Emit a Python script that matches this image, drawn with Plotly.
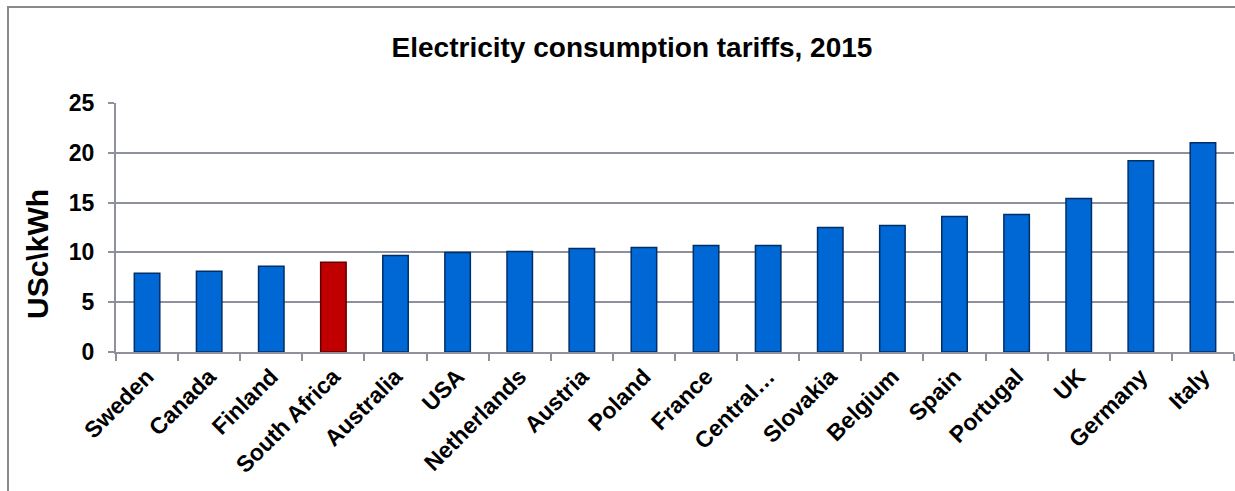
import plotly.graph_objects as go

countries = ["Sweden", "Canada", "Finland", "South Africa", "Australia", "USA",
             "Netherlands", "Austria", "Poland", "France", "Central…", "Slovakia",
             "Belgium", "Spain", "Portugal", "UK", "Germany", "Italy"]
tariffs = [7.9, 8.1, 8.6, 9.0, 9.7, 10.0, 10.1, 10.4, 10.5, 10.7, 10.7, 12.5,
           12.7, 13.6, 13.8, 15.4, 19.2, 21.0]
highlight = "South Africa"
y_ticks = [0, 5, 10, 15, 20, 25]

FONT = "Arial, Liberation Sans, sans-serif"
GRID = "#8E909C"

fill = ["#C00000" if c == highlight else "#0068D4" for c in countries]
edge = ["#600000" if c == highlight else "#002E66" for c in countries]

fig = go.Figure()
fig.add_trace(go.Bar(
    x=countries, y=tariffs, width=0.41,
    marker=dict(color=fill, line=dict(color=edge, width=1.5)),
    hoverinfo="x+y",
))

W, H = 1235, 491
L, R, T, B = 116, 1, 103, 139
pw = W - L - R
ph = H - T - B

def px_x(p):
    return (p - L) / pw

def px_y(p):
    return (H - B - p) / ph

fig.update_layout(
    width=W, height=H,
    margin=dict(l=L, r=R, t=T, b=B, pad=0),
    paper_bgcolor="white", plot_bgcolor="white",
    showlegend=False,
    font=dict(family=FONT, size=22, color="black"),
    title=dict(text="<b>Electricity consumption tariffs, 2015</b>",
               font=dict(family=FONT, size=28, color="black"),
               x=px_x(632), xref="paper", xanchor="center",
               y=1 - 47 / H, yref="container", yanchor="middle"),
    xaxis=dict(
        type="category",
        showgrid=False,
        showline=True, linecolor=GRID, linewidth=2,
        ticks="outside", tickson="boundaries", ticklen=7, tickwidth=2, tickcolor=GRID,
        tickangle=-45,
        tickfont=dict(family=FONT, size=23, color="black", weight="bold"),
    ),
    yaxis=dict(
        range=[0, 25],
        tickvals=y_ticks,
        showgrid=True, gridcolor=GRID, gridwidth=2,
        showline=True, linecolor=GRID, linewidth=2,
        ticks="outside", ticklen=6, tickwidth=2, tickcolor=GRID,
        ticklabelstandoff=9,
        zeroline=False,
        tickfont=dict(family=FONT, size=23, color="black", weight="bold"),
    ),
    annotations=[dict(
        text="<b>USc\\kWh</b>", textangle=-90,
        x=px_x(37), y=px_y(254), xref="paper", yref="paper",
        xanchor="center", yanchor="middle", showarrow=False,
        font=dict(family=FONT, size=30, color="black"),
    )],
    shapes=[dict(
        type="rect", xref="paper", yref="paper",
        x0=px_x(8), x1=px_x(1245), y0=px_y(500), y1=px_y(7),
        line=dict(color="#8A8A8A", width=2), fillcolor="rgba(0,0,0,0)",
        layer="below",
    )],
)

fig.write_html("out.html")
